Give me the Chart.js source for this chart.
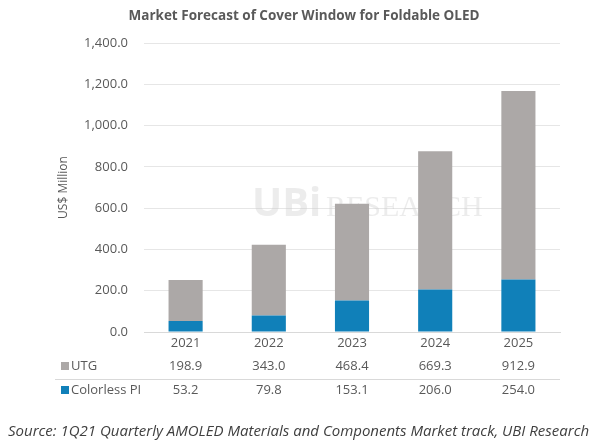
<!DOCTYPE html>
<html>
<head>
<meta charset="utf-8">
<script src="https://cdn.jsdelivr.net/npm/chart.js@4.4.1/dist/chart.umd.min.js"></script>
<style>
  html, body { margin: 0; padding: 0; background: #fff; }
  #wrap { width: 600px; height: 447px; position: relative; }
</style>
</head>
<body>
<div id="wrap"><canvas id="chart" width="600" height="447"></canvas></div>
<script>
// Chart data (US$ Million)
const years = ['2021', '2022', '2023', '2024', '2025'];
const utg = [198.9, 343.0, 468.4, 669.3, 912.9];
const colorlessPI = [53.2, 79.8, 153.1, 206.0, 254.0];
const seriesNames = ['UTG', 'Colorless PI'];
const yMax = 1400;
const yStep = 200;

const GRAY = '#aca8a7';
const BLUE = '#1080b9';
const TEXT = '#595959';
const FONT = "'Open Sans', sans-serif";

function fmt(v) {
  return v.toLocaleString('en-US', { minimumFractionDigits: 1, maximumFractionDigits: 1 });
}

// title + faint company watermark behind the bars
const backdropPlugin = {
  id: 'backdrop',
  beforeDatasetsDraw(chart) {
    const ctx = chart.ctx;
    ctx.save();
    ctx.fillStyle = TEXT;
    ctx.textAlign = 'center';
    ctx.textBaseline = 'middle';
    ctx.font = 'bold 13.5px ' + FONT;
    ctx.fillText('Market Forecast of Cover Window for Foldable OLED', 304, 16);

    ctx.textAlign = 'left';
    ctx.fillStyle = 'rgba(200, 200, 200, 0.35)';
    ctx.font = 'bold 40px ' + FONT;
    ctx.fillText('UBi', 252, 205);
    ctx.font = "30px 'Liberation Serif', serif";
    ctx.fillText('RESEARCH', 326, 208);
    ctx.restore();
  }
};

// data table under the x axis + source line
const tablePlugin = {
  id: 'dataTable',
  afterDraw(chart) {
    const ctx = chart.ctx;
    const xs = chart.scales.x;
    const area = chart.chartArea;
    const rows = [
      { label: seriesNames[0], color: GRAY, values: utg, y: 366 },
      { label: seriesNames[1], color: BLUE, values: colorlessPI, y: 390 }
    ];
    ctx.save();
    ctx.textBaseline = 'middle';
    ctx.font = '13px ' + FONT;
    rows.forEach(row => {
      ctx.fillStyle = row.color;
      ctx.fillRect(61, row.y - 4, 8, 8);
      ctx.fillStyle = TEXT;
      ctx.textAlign = 'left';
      ctx.fillText(row.label, 71, row.y);
      ctx.textAlign = 'center';
      row.values.forEach((v, i) => {
        ctx.fillText(fmt(v), xs.getPixelForValue(i), row.y);
      });
    });
    // separator between rows
    ctx.strokeStyle = '#d9d9d9';
    ctx.lineWidth = 1;
    ctx.beginPath();
    ctx.moveTo(55, 379.5);
    ctx.lineTo(area.right, 379.5);
    ctx.stroke();

    ctx.font = 'italic 15px ' + FONT;
    ctx.fillStyle = '#404040';
    ctx.textAlign = 'left';
    ctx.fillText('Source: 1Q21 Quarterly AMOLED Materials and Components Market track, UBI Research', 8, 432);
    ctx.restore();
  }
};

new Chart(document.getElementById('chart'), {
  type: 'bar',
  data: {
    labels: years,
    datasets: [
      {
        label: seriesNames[1],
        data: colorlessPI,
        backgroundColor: BLUE,
        barPercentage: 0.41,
        categoryPercentage: 1.0
      },
      {
        label: seriesNames[0],
        data: utg,
        backgroundColor: GRAY,
        barPercentage: 0.41,
        categoryPercentage: 1.0
      }
    ]
  },
  options: {
    responsive: false,
    animation: false,
    layout: { padding: { left: 0, right: 40, top: 43, bottom: 0 } },
    plugins: {
      legend: { display: false },
      tooltip: { enabled: false },
      title: { display: false }
    },
    scales: {
      x: {
        stacked: true,
        grid: { display: false, drawTicks: false },
        border: { display: true, color: '#d9d9d9' },
        ticks: { color: TEXT, font: { family: FONT, size: 13 }, padding: 3 },
        afterFit(scale) { scale.height = 115; }
      },
      y: {
        stacked: true,
        min: 0,
        max: yMax,
        grid: { color: '#e6e6e6', drawTicks: false },
        border: { display: false },
        ticks: {
          stepSize: yStep,
          color: TEXT,
          font: { family: FONT, size: 13 },
          padding: 16,
          callback: v => fmt(v)
        },
        title: {
          display: true,
          text: 'US$ Million',
          color: TEXT,
          font: { family: FONT, size: 12 },
          padding: { top: 56, bottom: 0 }
        },
        afterFit(scale) { scale.width = 144; }
      }
    }
  },
  plugins: [backdropPlugin, tablePlugin]
});
</script>
</body>
</html>
